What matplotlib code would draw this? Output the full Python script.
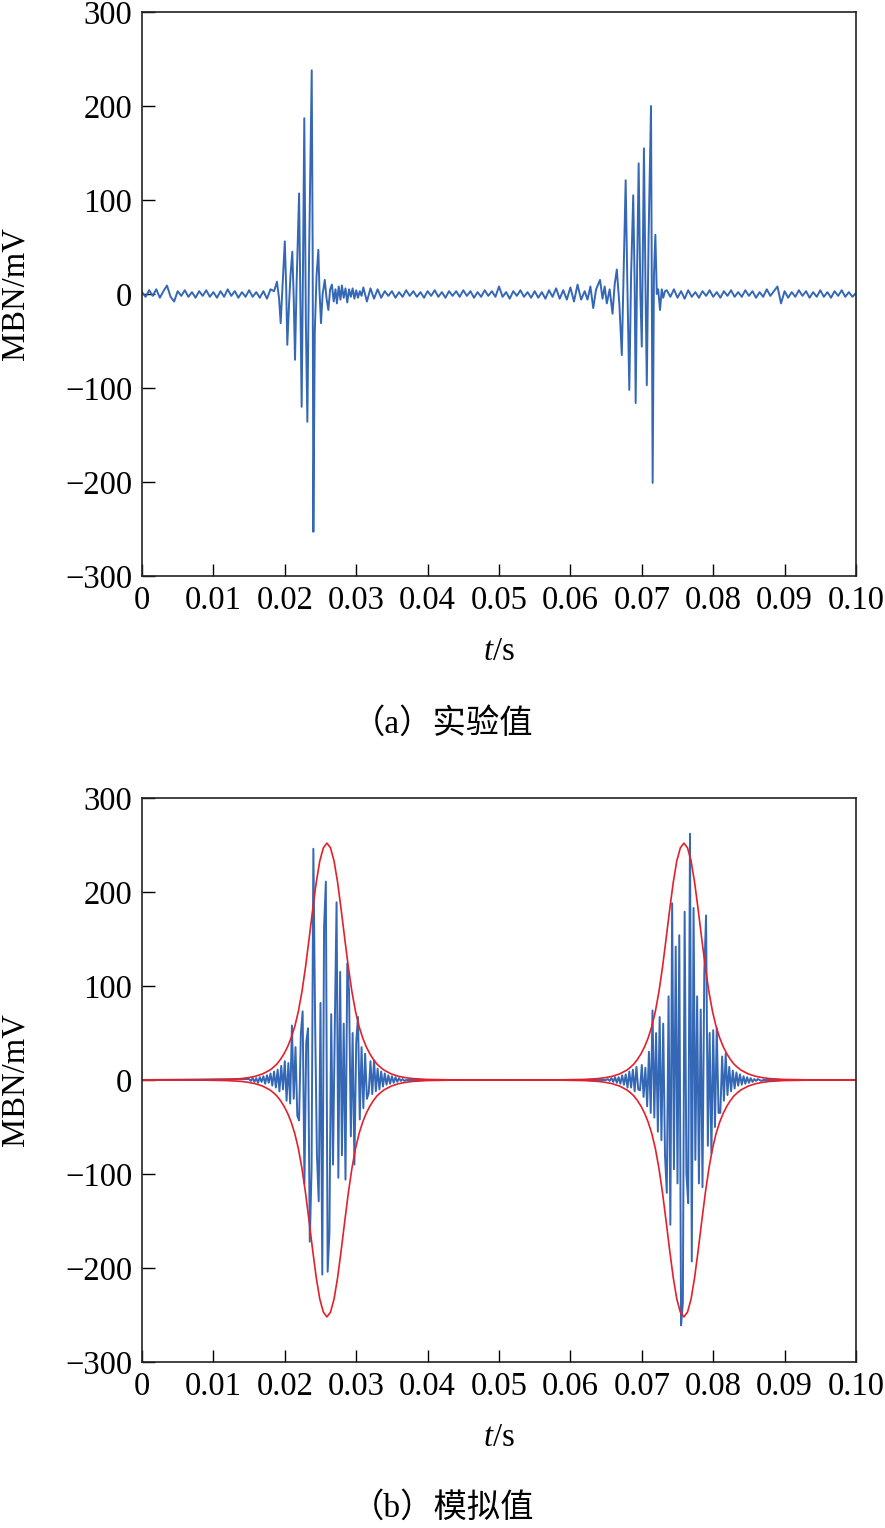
import numpy as np
import matplotlib
matplotlib.use('Agg')
import matplotlib.pyplot as plt

plt.rcParams['font.family'] = ['Liberation Serif', 'Noto Sans CJK SC']
plt.rcParams['mathtext.fontset'] = 'custom'
plt.rcParams['mathtext.rm'] = 'Liberation Serif'
plt.rcParams['mathtext.it'] = 'Liberation Serif:italic'

# ---- (a) measured signal, ms / mV ----
# quiet background, one value every 0.5 ms from 0 to 100 ms
quiet_a = [
    2, -3, 4, -2, 5, -4, 3, 9, -3, -8,
    3, -2, 4, -3, 2, -4, 3, -2, 4, -3,
    2, -4, 3, -3, 5, -2, 3, -4, 2, -3,
    4, -3, 2, -4, 3, -5, 5, -3, 6, -4,
    0, 0, 0, 0, 0, 0, 0, 0, 0, 0,
    0, 0, 0, 0, 0, 0, 0, 0, 0, 0,
    0, 0, 7, -8, 6, -5, 5, -4, 3, -2,
    3, -4, 2, -3, 4, -2, 3, -3, 2, -4,
    3, -2, 4, -3, 2, -4, 3, -2, 3, -3,
    4, -2, 3, -4, 2, -3, 4, -2, 3, -3,
    8, -3, 2, -5, 3, -2, 4, -3, 2, -4,
    3, -4, 2, -5, 4, -3, 6, -5, 4, -6,
    7, -8, 10, -6, 0, 0, 0, 0, 0, 0,
    0, 0, 0, 0, 0, 0, 0, 0, 0, 0,
    0, 0, 0, 0, 0, 0, 0, 4, -3, 5,
    -4, 3, -5, 4, -3, 2, -4, 3, -2, 4,
    -3, 2, -4, 3, -2, 4, -3, 2, -3, 4,
    -2, 3, -4, 2, -3, 5, -2, 3, 8, -10,
    3, -4, 2, -3, 4, -2, 3, -4, 2, -3,
    4, -3, 2, -4, 3, -2, 4, -3, 2, -3,
    1,
]
burst1_a_t = [18.5, 18.9, 19.2, 19.42, 19.7, 20.0, 20.2, 20.35, 20.6, 20.8,
              21.05, 21.25, 21.43, 21.65, 22.0, 22.2, 22.36, 22.55, 22.73, 22.95,
              23.16, 23.4, 23.77, 23.9, 24.0, 24.2, 24.45, 24.7, 24.85, 25.07,
              25.3, 25.6, 25.85, 26.1, 26.35, 26.6, 26.85, 27.1, 27.3, 27.55,
              27.8, 28.0, 28.25, 28.5, 28.75, 29.0, 29.25, 29.5, 29.75, 30.0,
              30.25, 30.5, 30.75]
burst1_a_v = [3, 13, -5, -31, 10, 56, 5, -54, -10, 20,
              45, -5, -70, 10, 107, -20, -120, 30, 187, -30,
              -136, 40, 238, 50, -253, -40, 20, 47, 5, -31,
              0, 15, -5, -17, 5, 10, -8, 5, -10, 8,
              -6, 9, -4, 6, -9, 5, -3, 6, -5, 4,
              -4, 3, -2]
burst2_a_t = [62.0, 62.4, 62.8, 63.2, 63.6, 64.15, 64.5, 64.8, 65.1, 65.5,
              65.9, 66.2, 66.5, 66.85, 67.2, 67.45, 67.74, 68.0, 68.25, 68.5,
              68.8, 69.0, 69.14, 69.35, 69.56, 69.8, 70.0, 70.3, 70.5, 70.7,
              70.95, 71.29, 71.52, 71.7, 71.9, 72.1, 72.3, 72.55, 72.8, 73.0,
              73.25]
burst2_a_v = [3, -6, 8, -15, 5, 15, -5, 8, -10, 5,
              -21, 10, 26, -10, -65, 20, 121, 0, -102, 20,
              105, 10, -116, 30, 139, 0, -56, 155, 20, -97,
              60, 200, -201, 20, 63, 0, 5, -17, 5, -4,
              3]

# ---- (b) simulated signal, one value every 0.25 ms ----
burst1_b_start = 15.0
burst1_b = [
    1, -1, 2, -2, 2, -3, 3, -2, 4, -4, 5, -3, 7, -6, 9, -8, 11, -12, 15, -10,
    20, -22, 18, -25, 58, -20, 35, -38, -43, 50, 73, -110, 40, 55, -172, -95,
    246, 60, -80, -129, 82, -207, 163, 211, -204, -163, 70, -90, 55, 189, -104, 115,
    -80, 60, -106, 124, 94, -60, 50, -90, 40, 67, -42, 35, -30, 28, -20, -14,
    20, -15, 21, -12, 12, -10, 9, -7, 7, -5, 5, -4, 4, -3, 3, -2, 2, -1, 1, -1, 0,
]
burst2_b_start = 65.0
burst2_b = [
    0, 1, -1, 2, -2, 3, -3, 3, -4, 5, -5, 6, -8, 9, -8, 11, -12, 14, -10, -11,
    16, -18, 13, -28, 30, -35, 74, -40, 50, -55, 67, -64, 60, -80, -120, 89,
    -154, 188, -95, 142, -110, 154, -261, -237, 179, -100, -131, 262, -193, 183, -85, 89,
    -110, 75, -114, 114, 175, -70, 50, -78, 53, -50, 55, -35, -35, 25, -22, 28,
    -16, 14, -12, 10, -9, 8, -6, 6, -5, 4, -4, 3, -3, 2, -2, 1, -1, 1, 0, -1, 0,
]
# red envelope: distance from burst centre (ms) and amplitude (mV)
env_centres = [25.9, 75.9]
env_off = [0, 0.5, 1, 1.5, 2, 2.5, 3, 3.5, 4, 4.5, 5, 5.5, 6, 6.5, 7, 7.5, 8,
           9, 10, 11, 12, 14, 17, 20, 25]
env_amp = [252, 247, 233, 210, 181, 150, 120, 94, 73, 57, 45, 35.5, 28, 22, 17,
           13.5, 10.5, 6.5, 4, 2.5, 1.5, 0.6, 0.2, 0.05, 0]

blue = '#3467b6'
red = '#e3202b'
fs = 23.5

# assemble (a)
t_q = np.arange(len(quiet_a)) * 0.5
q = np.array(quiet_a, dtype=float)
keep = ~((t_q >= 18.5) & (t_q <= 30.75)) & ~((t_q >= 62.0) & (t_q <= 73.25))
ta = np.concatenate([t_q[keep], burst1_a_t, burst2_a_t])
va = np.concatenate([q[keep], burst1_a_v, burst2_a_v])
o = np.argsort(ta, kind='stable')
ta, va = ta[o] / 1000, va[o]

# assemble (b)
t1 = burst1_b_start + 0.25 * np.arange(len(burst1_b))
t2 = burst2_b_start + 0.25 * np.arange(len(burst2_b))
tb = np.concatenate([[0], t1, t2, [100]]) / 1000
vb = np.concatenate([[0], burst1_b, burst2_b, [0]])

off = np.array(env_off)
amp = np.array(env_amp)
off_full = np.concatenate([-off[::-1], off[1:]])
amp_full = np.concatenate([amp[::-1], amp[1:]])
te = np.concatenate([[0]] + [c + off_full for c in env_centres]) / 1000
ae = np.concatenate([[0]] + [amp_full for c in env_centres])

fig = plt.figure(figsize=(8.85, 15.28), dpi=100)
W = 885.0
H = 1528.0
ax_a = fig.add_axes([142 / W, 1 - 576 / H, 714 / W, 564 / H])
ax_b = fig.add_axes([142 / W, 1 - 1362 / H, 714 / W, 564 / H])

ax_a.plot(ta, va, color=blue, lw=1.4)
ax_b.plot(tb, vb, color=blue, lw=1.4)
ax_b.plot(te, ae, color=red, lw=1.2)
ax_b.plot(te, -ae, color=red, lw=1.2)

for ax in (ax_a, ax_b):
    ax.set_xlim(0, 0.10)
    ax.set_ylim(-300, 300)
    ax.set_xticks(np.arange(0, 0.1001, 0.01))
    ax.set_xticklabels(['0'] + ['%.2f' % v for v in np.arange(0.01, 0.1001, 0.01)])
    ax.set_yticks([-300, -200, -100, 0, 100, 200, 300])
    ax.set_yticklabels(['\u2212300', '\u2212200', '\u2212100', '0', '100', '200', '300'])
    ax.tick_params(direction='in', length=9, width=1, top=False, right=False,
                   labelsize=fs, pad=7, colors='black')
    for s in ax.spines.values():
        s.set_linewidth(1.2)
        s.set_color('#222222')
    ax.set_xlabel('$t$/s', fontsize=fs, va='center')
    ax.xaxis.set_label_coords(0.5, -0.135)
    ax.set_ylabel('MBN/mV', fontsize=fs, va='center')
    ax.yaxis.set_label_coords(-0.178, 0.5)

fig.text(0.5, 1 - 724 / H, '（a）实验值', ha='center', va='center', fontsize=24)
fig.text(0.5, 1 - 1508 / H, '（b）模拟值', ha='center', va='center', fontsize=24)

fig.savefig('out.png', dpi=100)
